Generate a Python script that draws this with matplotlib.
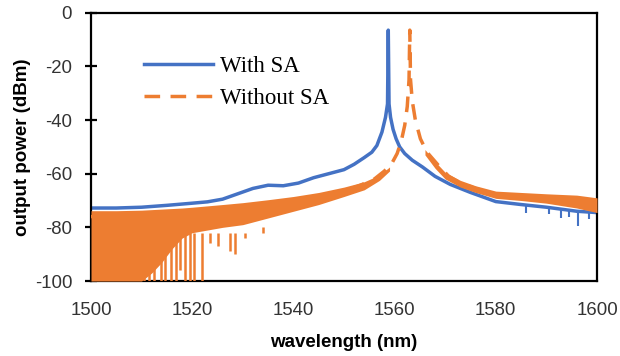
import numpy as np
import matplotlib
matplotlib.use("Agg")
import matplotlib.pyplot as plt

plt.rcParams['font.family'] = ['Liberation Sans', 'DejaVu Sans']
plt.rcParams['axes.unicode_minus'] = False

BLUE = '#4472C4'
ORANGE = '#ED7D31'

# With SA (solid line)
wl_with = [1500, 1505, 1510, 1515, 1520, 1523, 1526, 1529, 1532, 1535, 1538, 1541,
           1544, 1547, 1550, 1552, 1554, 1555.5, 1556.5, 1557.5, 1558.2, 1558.6,
           1558.75, 1558.9, 1559.2, 1559.7, 1560.3, 1561, 1562, 1563.5, 1565.5,
           1568, 1571, 1575, 1580, 1585, 1590, 1596, 1600]
p_with = [-72.8, -72.8, -72.5, -71.8, -71, -70.5, -69.5, -67.5, -65.5, -64.3, -64.5, -63.5,
          -61.5, -60, -58.5, -56.5, -54, -52, -49.5, -44.5, -39, -34,
          -6.5, -34, -39, -43.5, -47, -50, -52.5, -55, -57.5,
          -61, -64, -67, -70.4, -71.5, -72.5, -74, -74.5]
# downward noise spikes on the blue trace
spk_with_wl = [1586, 1590.5, 1592.8, 1594.5, 1596.2, 1598.5]
spk_with_hi = [-72, -72.5, -73, -73.5, -74, -74]
spk_with_lo = [-74.5, -75, -76.5, -76, -79.5, -77]

# Without SA (dashed line)
wl_without = [1500, 1510, 1520, 1525, 1530, 1535, 1540, 1545, 1550, 1553, 1556, 1558,
              1559.5, 1560.5, 1561.3, 1562, 1562.5, 1562.85, 1563.0, 1563.15, 1563.5,
              1564.1, 1565.1, 1566.4, 1568.7, 1570.7, 1573, 1576, 1580, 1585, 1590,
              1596, 1600]
p_without = [-76, -75, -74, -73, -72, -71, -70, -68.5, -66.5, -64.5, -62, -59,
             -56, -52.5, -48, -42, -35, -25, -6.5, -25, -33,
             -40, -47, -52, -57, -61, -63.5, -65.5, -68, -69, -69.5,
             -70.5, -71.5]

# noise envelope of the Without SA trace (left and right of the peak)
band_l_wl = [1500, 1505, 1510, 1512, 1514, 1516, 1518, 1520, 1523, 1526, 1530,
             1535, 1540, 1545, 1550, 1554, 1557, 1559]
band_l_top = [-73.8, -73.8, -73.6, -73.4, -73.2, -73, -72.8, -72.5, -72, -71.5, -70.8,
              -69.7, -68.5, -67, -65, -63, -60.5, -57.5]
band_l_bot = [-100, -100, -100, -97, -93, -88, -84, -82, -81, -80, -79,
              -76.5, -74, -71.5, -68.5, -66, -62.5, -59]
band_r_wl = [1566, 1568, 1570, 1573, 1576, 1580, 1585, 1590, 1596, 1600]
band_r_top = [-51, -55.5, -59.5, -62.5, -64.5, -66.5, -67, -67.5, -68, -69]
band_r_bot = [-53, -58, -62, -65, -67, -69.2, -70, -71, -72.8, -74.5]

spk_wo_wl = [1510.5, 1511.5, 1512.5, 1513.8, 1514.6, 1515.8, 1516.8, 1517.6, 1518.6,
             1519.5, 1520.3, 1522, 1523.5, 1525, 1527.5, 1528.5, 1530.5, 1532.5, 1534]
spk_wo_lo = [-100, -100, -100, -100, -100, -100, -100, -96, -100, -100,
             -100, -100, -86, -87, -89, -90, -84, -82, -80]

fig = plt.figure(figsize=(6.2, 3.56), dpi=100)
ax = fig.add_axes([91 / 620, 1 - 281 / 356, 506 / 620, 268.3 / 356])

ax.plot(wl_with, p_with, color=BLUE, lw=2.5, label='With SA', zorder=2)
ax.vlines(spk_with_wl, spk_with_hi, spk_with_lo, color=BLUE, lw=1.5, zorder=2)

ax.fill_between(band_l_wl, band_l_bot, band_l_top, color=ORANGE, lw=0, zorder=3)
ax.fill_between(band_r_wl, band_r_bot, band_r_top, color=ORANGE, lw=0, zorder=3)
ax.vlines(spk_wo_wl, -82, spk_wo_lo, color=ORANGE, lw=1.8, zorder=3)
ax.plot(wl_without, p_without, color=ORANGE, lw=2.5, ls=(0, (4.5, 3)),
        label='Without SA', zorder=3)

ax.set_xlim(1500, 1600)
ax.set_ylim(-100, 0)
ax.set_xticks(np.arange(1500, 1601, 20))
ax.set_yticks(np.arange(-100, 1, 20))
for s in ax.spines.values():
    s.set_linewidth(1.6)
ax.tick_params(axis='x', length=0, pad=15, labelsize=13.4, colors='#333333')
ax.tick_params(axis='y', direction='inout', length=9, width=1.6, pad=9,
               labelsize=13.4, labelcolor='#333333')

ax.set_xlabel('wavelength (nm)', fontsize=13.5, fontweight='bold', labelpad=11)
ax.set_ylabel('output power (dBm)', fontsize=13.5, fontweight='bold', labelpad=3)

ax.legend(loc='upper left', bbox_to_anchor=(0.083, 0.883), frameon=False,
          prop={'family': 'Liberation Serif', 'size': 16.5},
          handlelength=3.0, handletextpad=0.3, labelspacing=0.5, borderpad=0)

fig.savefig('out.png', dpi=100)
